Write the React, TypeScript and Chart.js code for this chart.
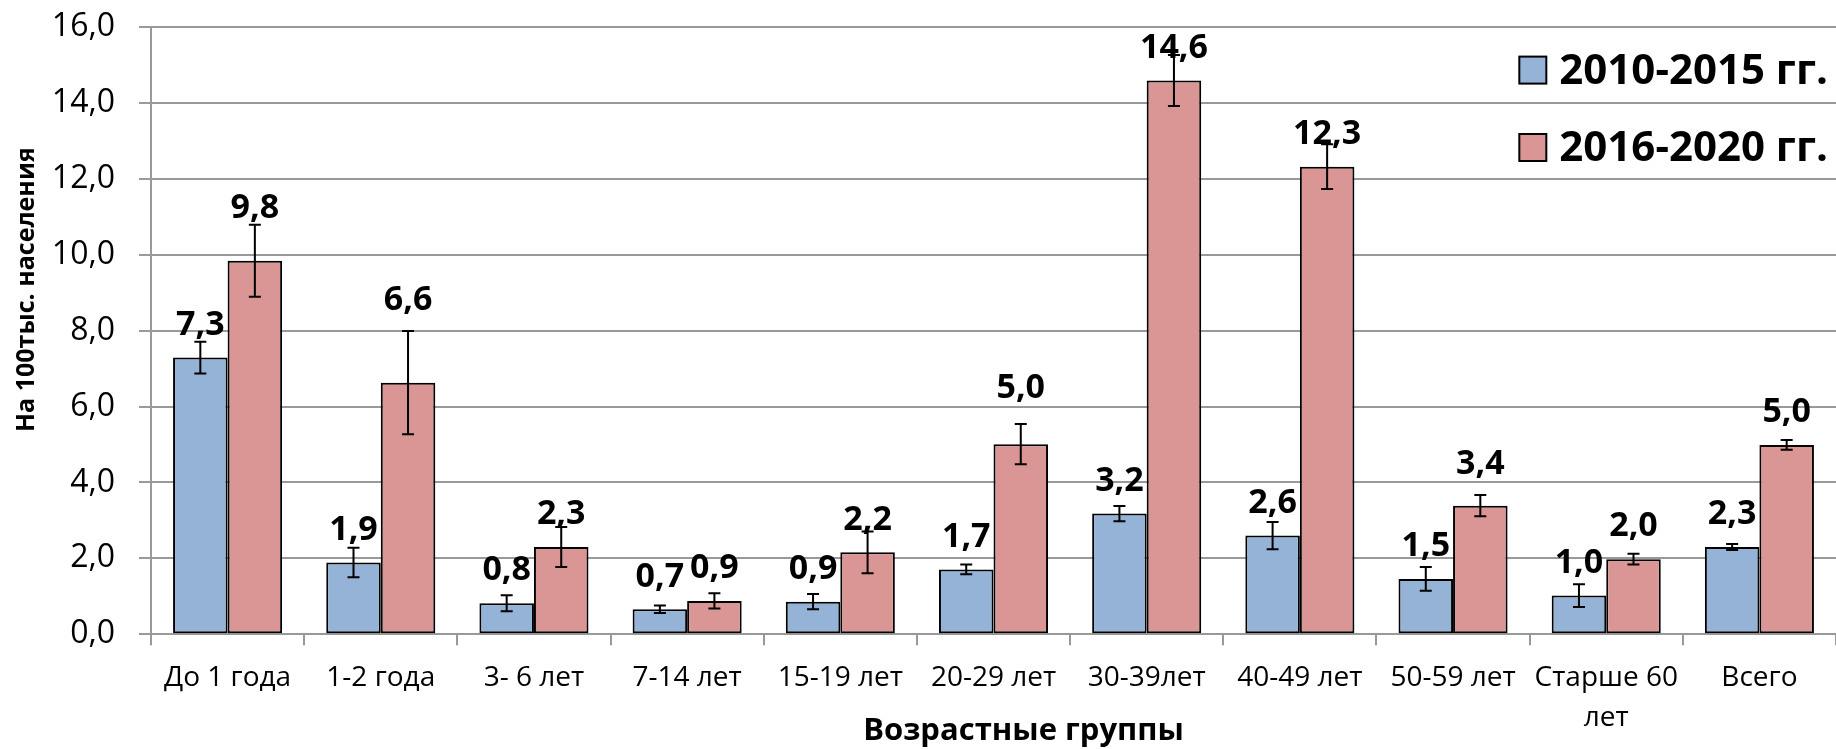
import React, { useEffect, useRef } from 'react';
import { Chart, registerables } from 'chart.js';

Chart.register(...registerables);

const categories: (string | string[])[] = [
  'До 1 года', '1-2 года', '3- 6 лет', '7-14 лет', '15-19 лет', '20-29 лет',
  '30-39лет', '40-49 лет', '50-59 лет', ['Старше 60', 'лет'], 'Всего',
];
const seriesNames = ['2010-2015 гг.', '2016-2020 гг.'];
const values2010 = [7.29, 1.89, 0.82, 0.66, 0.86, 1.71, 3.18, 2.6, 1.46, 1.02, 2.3];
const values2016 = [9.84, 6.63, 2.3, 0.88, 2.16, 5.01, 14.59, 12.32, 3.39, 1.98, 4.99];
const errors2010 = [0.42, 0.39, 0.21, 0.1, 0.2, 0.13, 0.2, 0.36, 0.31, 0.3, 0.08];
const errors2016 = [0.95, 1.36, 0.53, 0.2, 0.55, 0.53, 0.67, 0.59, 0.28, 0.14, 0.13];
const yMin = 0;
const yMax = 16;
const yStep = 2;
const yTitle = 'На 100тыс. населения';
const xTitle = 'Возрастные группы';

const fmt = (v: number) => v.toFixed(1).replace('.', ',');

const errorBarsPlugin = {
  id: 'errorBars',
  afterDatasetsDraw(chart: any) {
    const ctx = chart.ctx;
    const y = chart.scales.y;
    ctx.save();
    ctx.strokeStyle = '#000';
    ctx.lineWidth = 2;
    chart.data.datasets.forEach((ds: any, di: number) => {
      const meta = chart.getDatasetMeta(di);
      meta.data.forEach((bar: any, i: number) => {
        const v = ds.data[i];
        const e = ds.errors[i];
        const yt = y.getPixelForValue(v + e);
        const yb = y.getPixelForValue(v - e);
        const cap = 6;
        ctx.beginPath();
        ctx.moveTo(bar.x, yt);
        ctx.lineTo(bar.x, yb);
        ctx.moveTo(bar.x - cap, yt);
        ctx.lineTo(bar.x + cap, yt);
        ctx.moveTo(bar.x - cap, yb);
        ctx.lineTo(bar.x + cap, yb);
        ctx.stroke();
      });
    });
    ctx.restore();
  },
};

const dataLabelsPlugin = {
  id: 'valueLabels',
  afterDatasetsDraw(chart: any, _args: any, opts: any) {
    const ctx = chart.ctx;
    ctx.save();
    ctx.fillStyle = '#000';
    ctx.font = 'bold 34px "Open Sans"';
    ctx.textAlign = 'center';
    ctx.textBaseline = 'alphabetic';
    chart.data.datasets.forEach((ds: any, di: number) => {
      const meta = chart.getDatasetMeta(di);
      const nudges = (opts.nudge && opts.nudge[di]) || [];
      meta.data.forEach((bar: any, i: number) => {
        const lift = opts.gap + (nudges[i] || 0);
        ctx.fillText(fmt(ds.data[i]), bar.x, bar.y - lift);
      });
    });
    ctx.restore();
  },
};

const axisTitlesPlugin = {
  id: 'axisTitles',
  afterDraw(chart: any, _args: any, opts: any) {
    const ctx = chart.ctx;
    const area = chart.chartArea;
    ctx.save();
    ctx.fillStyle = '#000';
    ctx.textAlign = 'center';
    ctx.textBaseline = 'middle';
    // x title
    ctx.font = 'bold 31px "Open Sans"';
    ctx.fillText(opts.x, (area.left + area.right) / 2 + opts.xShift, chart.height - 18);
    // y title
    ctx.font = 'bold 25px "Open Sans"';
    ctx.translate(27, (area.top + area.bottom) / 2 + opts.yShift);
    ctx.rotate(-Math.PI / 2);
    ctx.fillText(opts.y, 0, 0);
    ctx.restore();
  },
};

const boxLegendPlugin = {
  id: 'boxLegend',
  afterDraw(chart: any) {
    const ctx = chart.ctx;
    const area = chart.chartArea;
    ctx.save();
    ctx.font = 'bold 42px "Open Sans"';
    ctx.textBaseline = 'alphabetic';
    ctx.textAlign = 'left';
    const widths = chart.data.datasets.map((d: any) => ctx.measureText(d.label).width);
    const maxW = Math.max(...widths);
    const textX = area.right - 8 - maxW;
    const box = 27;
    const boxX = textX - 40;
    chart.data.datasets.forEach((ds: any, i: number) => {
      const base = area.top + 56.6 + i * 77.4;
      ctx.fillStyle = ds.backgroundColor;
      ctx.fillRect(boxX, base - box, box, box);
      ctx.strokeStyle = '#000';
      ctx.lineWidth = 2;
      ctx.strokeRect(boxX, base - box, box, box);
      ctx.fillStyle = '#000';
      ctx.fillText(ds.label, textX, base);
    });
    ctx.restore();
  },
};

export default function App() {
  const ref = useRef<HTMLCanvasElement>(null);
  useEffect(() => {
    document.body.style.margin = '0';
    const canvas = ref.current;
    if (!canvas) return;
    const gridColor = '#999999';
    const chart = new Chart(canvas, {
      type: 'bar',
      data: {
        labels: categories as any,
        datasets: [
          {
            label: seriesNames[0],
            data: values2010,
            errors: errors2010,
            backgroundColor: '#95B3D7',
            borderColor: '#000000',
            borderWidth: 2,
            borderSkipped: false,
            categoryPercentage: 0.712,
            barPercentage: 1,
          } as any,
          {
            label: seriesNames[1],
            data: values2016,
            errors: errors2016,
            backgroundColor: '#D99694',
            borderColor: '#000000',
            borderWidth: 2,
            borderSkipped: false,
            categoryPercentage: 0.712,
            barPercentage: 1,
          } as any,
        ],
      },
      options: {
        animation: false,
        responsive: true,
        maintainAspectRatio: false,
        layout: { padding: { left: 10, top: 27, right: 0, bottom: 0 } },
        plugins: {
          legend: { display: false },
          tooltip: { enabled: false },
          valueLabels: {
            gap: 22.7,
            nudge: [[], [20, 50, 0, 0, 0, 23, 0, 0, 9, 0, 0]],
          },
          axisTitles: { x: xTitle, y: yTitle, xShift: 30, yShift: -41 },
        } as any,
        scales: {
          x: {
            grid: {
              offset: true,
              drawOnChartArea: false,
              drawTicks: true,
              tickLength: 11,
              color: gridColor,
              lineWidth: 2,
            },
            border: { display: true, color: gridColor, width: 2 },
            ticks: {
              color: '#000',
              font: { family: '"Open Sans"', size: 28, lineHeight: 1.45 },
              padding: 12,
              maxRotation: 0,
              autoSkip: false,
            },
            afterFit(scale: any) {
              scale.height = 114.7;
            },
          },
          y: {
            min: yMin,
            max: yMax,
            ticks: {
              stepSize: yStep,
              color: '#000',
              font: { family: '"Open Sans"', size: 32 },
              padding: 24,
              callback: (v: any) => fmt(Number(v)),
            },
            grid: {
              color: gridColor,
              lineWidth: 2,
              tickLength: 12,
              drawTicks: true,
            },
            border: { display: true, color: gridColor, width: 2 },
            afterFit(scale: any) {
              scale.width = 141;
              scale.paddingTop = 0;
              scale.paddingBottom = 0;
            },
          },
        },
      } as any,
      plugins: [errorBarsPlugin, dataLabelsPlugin, axisTitlesPlugin, boxLegendPlugin],
    });
    return () => chart.destroy();
  }, []);
  return (
    <div style={{ width: 1836, height: 749, position: 'relative' }}>
      <canvas ref={ref} style={{ display: 'block' }} />
    </div>
  );
}
